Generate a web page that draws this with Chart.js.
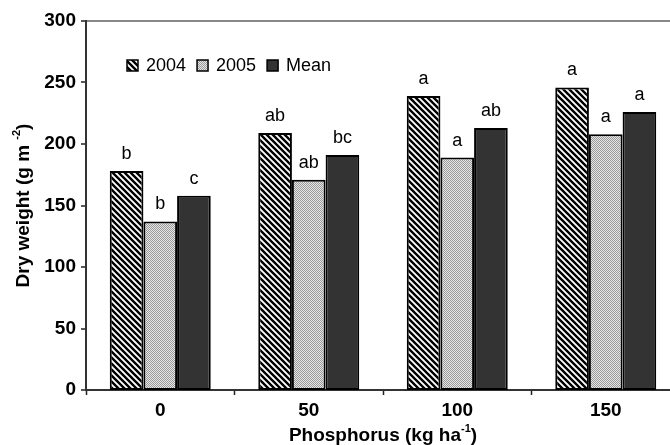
<!DOCTYPE html>
<html>
<head>
<meta charset="utf-8">
<script src="https://cdn.jsdelivr.net/npm/chart.js@4/dist/chart.umd.min.js"></script>
<style>
  html, body { margin: 0; padding: 0; background: #fff; overflow: hidden; }
  canvas { display: block; }
</style>
</head>
<body>
<canvas id="dwChart" width="690" height="445"></canvas>
<script>
const categories = ['0', '50', '100', '150'];
const seriesNames = ['2004', '2005', 'Mean'];
const dw2004 = [178, 209, 239, 246];
const dw2005 = [137, 171, 189, 208];
const dwMean = [158, 191, 213, 226];
const letters2004 = ['b', 'ab', 'a', 'a'];
const letters2005 = ['b', 'ab', 'a', 'a'];
const lettersMean = ['c', 'bc', 'ab', 'a'];
const yTicks = [0, 50, 100, 150, 200, 250, 300];

function hatchPattern() {
    const c = document.createElement('canvas');
    c.width = 6; c.height = 6;
    const g = c.getContext('2d');
    g.fillStyle = '#fff';
    g.fillRect(0, 0, 6, 6);
    g.strokeStyle = '#000';
    g.lineWidth = 2.4;
    g.beginPath();
    g.moveTo(-2, -2); g.lineTo(8, 8);
    g.moveTo(-2, 4); g.lineTo(2, 8);
    g.moveTo(4, -2); g.lineTo(8, 2);
    g.stroke();
    return g.createPattern(c, 'repeat');
}

function dotPattern() {
    const c = document.createElement('canvas');
    c.width = 2; c.height = 2;
    const g = c.getContext('2d');
    g.fillStyle = '#e6e6e6';
    g.fillRect(0, 0, 2, 2);
    g.fillStyle = '#9a9a9a';
    g.fillRect(0, 0, 1, 1);
    g.fillRect(1, 1, 1, 1);
    return g.createPattern(c, 'repeat');
}

const fills = [hatchPattern(), dotPattern(), '#333333'];
const letterSets = [letters2004, letters2005, lettersMean];

// draws text with a superscript part, centred on (0,0) of the current transform
function drawRich(ctx, parts, size) {
    const big = `bold ${size}px "Liberation Sans", Arial, sans-serif`;
    const small = `bold ${Math.round(size * 0.6)}px "Liberation Sans", Arial, sans-serif`;
    let total = 0;
    parts.forEach(p => { ctx.font = p.sup ? small : big; total += ctx.measureText(p.t).width; });
    let x = -total / 2;
    ctx.textBaseline = 'alphabetic';
    ctx.textAlign = 'left';
    parts.forEach(p => {
        ctx.font = p.sup ? small : big;
        ctx.fillText(p.t, x, p.sup ? -size * 0.45 : 0);
        x += ctx.measureText(p.t).width;
    });
}

const extrasPlugin = {
    id: 'extras',
    afterDatasetsDraw(chart) {
        const ctx = chart.ctx;
        const area = chart.chartArea;
        ctx.save();
        ctx.fillStyle = '#000';
        // significance letters
        ctx.font = '18px "Liberation Sans", Arial, sans-serif';
        ctx.textAlign = 'center';
        ctx.textBaseline = 'alphabetic';
        chart.data.datasets.forEach((ds, i) => {
            chart.getDatasetMeta(i).data.forEach((bar, j) => {
                ctx.fillText(letterSets[i][j], bar.x, bar.y - 12);
            });
        });
        // legend inside plot
        let lx = area.left + 41;
        const ly = area.top + 45;
        ctx.textAlign = 'left';
        ctx.textBaseline = 'middle';
        seriesNames.forEach((name, i) => {
            ctx.fillStyle = fills[i];
            ctx.fillRect(lx, ly - 6, 11, 11);
            ctx.strokeStyle = '#000';
            ctx.lineWidth = 1.5;
            ctx.strokeRect(lx, ly - 6, 11, 11);
            ctx.fillStyle = '#000';
            ctx.fillText(name, lx + 19, ly);
            lx += 19 + ctx.measureText(name).width + 11;
        });
        ctx.restore();
    },
    afterDraw(chart) {
        const ctx = chart.ctx;
        const area = chart.chartArea;
        ctx.save();
        ctx.fillStyle = '#000';
        ctx.translate((area.left + area.right) / 2, 441);
        drawRich(ctx, [{ t: 'Phosphorus (kg ha' }, { t: '-1', sup: true }, { t: ')' }], 19);
        ctx.restore();
        ctx.save();
        ctx.fillStyle = '#000';
        ctx.translate(29, (area.top + area.bottom) / 2);
        ctx.rotate(-Math.PI / 2);
        drawRich(ctx, [{ t: 'Dry weight (g m ' }, { t: '-2', sup: true }, { t: ')' }], 19);
        ctx.restore();
    }
};

const datasets = [dw2004, dw2005, dwMean].map((vals, i) => ({
    label: seriesNames[i],
    data: vals,
    backgroundColor: fills[i],
    borderColor: '#000',
    borderWidth: 2,
    borderSkipped: false,
    categoryPercentage: 0.68,
    barPercentage: 1.0
}));

new Chart(document.getElementById('dwChart'), {
    type: 'bar',
    data: { labels: categories, datasets: datasets },
    options: {
        responsive: false,
        animation: false,
        devicePixelRatio: 1,
        layout: { padding: { left: 0, top: 21, right: 10, bottom: 0 } },
        plugins: { legend: { display: false }, tooltip: { enabled: false } },
        scales: {
            x: {
                afterFit(scale) { scale.height = 55; },
                grid: { offset: true, drawOnChartArea: false, tickLength: 5, tickColor: '#222', tickWidth: 1.5 },
                border: { display: true, color: '#333', width: 2 },
                ticks: { color: '#000', padding: 4, font: { family: '"Liberation Sans", Arial, sans-serif', size: 19, weight: 'bold' } }
            },
            y: {
                min: 0,
                max: 300,
                afterFit(scale) { scale.width = 86; },
                afterBuildTicks(scale) { scale.ticks = yTicks.map(v => ({ value: v })); },
                grid: {
                    drawOnChartArea: true,
                    color: c => (c.tick && c.tick.value === 300 ? '#888' : 'rgba(0,0,0,0)'),
                    lineWidth: c => (c.tick && c.tick.value === 300 ? 2 : 0),
                    tickLength: 5,
                    tickColor: '#222',
                    tickWidth: 1.5
                },
                border: { display: true, color: '#333', width: 2 },
                ticks: { color: '#000', padding: 5, font: { family: '"Liberation Sans", Arial, sans-serif', size: 19, weight: 'bold' } }
            }
        }
    },
    plugins: [extrasPlugin]
});
</script>
</body>
</html>
